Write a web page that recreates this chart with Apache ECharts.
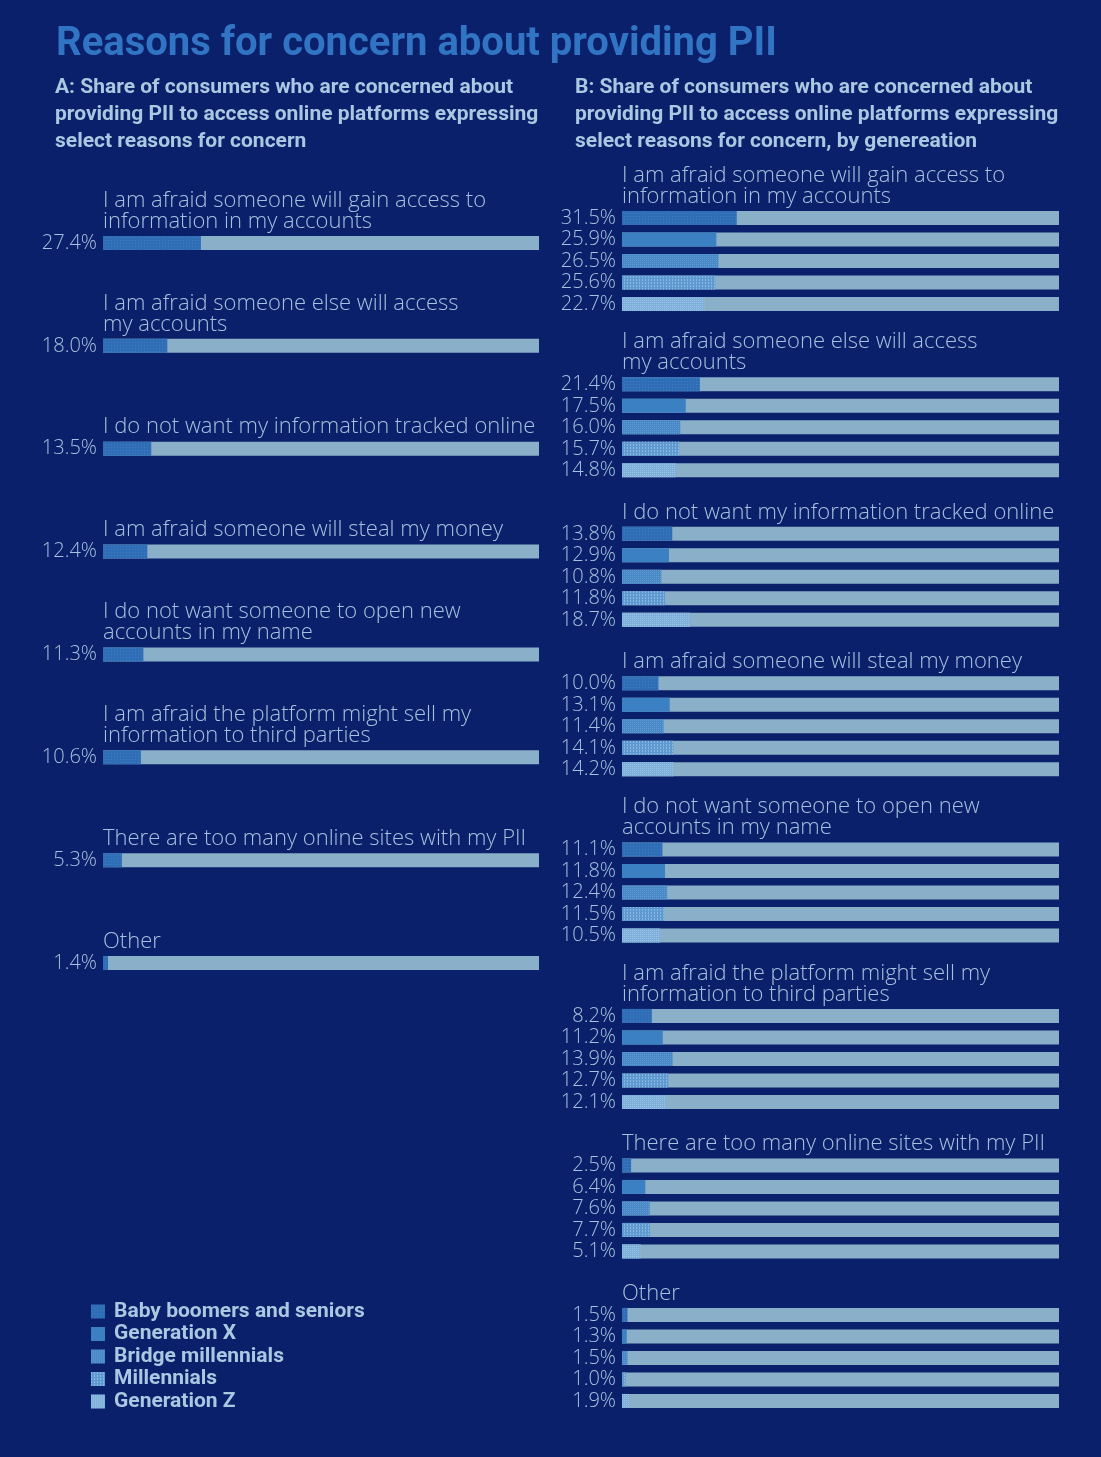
<!DOCTYPE html>
<html>
<head>
<meta charset="utf-8">
<script src="https://cdn.jsdelivr.net/npm/echarts@6/dist/echarts.min.js"></script>
<style>
html,body{margin:0;padding:0;background:#0b206a;}
#c{width:1101px;height:1457px;}
</style>
</head>
<body>
<div id="c"></div>
<script>
// ---------- DATA ----------
const categories = [
  'I am afraid someone will gain access to\ninformation in my accounts',
  'I am afraid someone else will access\nmy accounts',
  'I do not want my information tracked online',
  'I am afraid someone will steal my money',
  'I do not want someone to open new\naccounts in my name',
  'I am afraid the platform might sell my\ninformation to third parties',
  'There are too many online sites with my PII',
  'Other'
];
const totalShare = [27.4, 18.0, 13.5, 12.4, 11.3, 10.6, 5.3, 1.4];
const generations = ['Baby boomers and seniors', 'Generation X', 'Bridge millennials', 'Millennials', 'Generation Z'];
const boomers     = [31.5, 21.4, 13.8, 10.0, 11.1,  8.2, 2.5, 1.5];
const genX        = [25.9, 17.5, 12.9, 13.1, 11.8, 11.2, 6.4, 1.3];
const bridge      = [26.5, 16.0, 10.8, 11.4, 12.4, 13.9, 7.6, 1.5];
const millennials = [25.6, 15.7, 11.8, 14.1, 11.5, 12.7, 7.7, 1.0];
const genZ        = [22.7, 14.8, 18.7, 14.2, 10.5, 12.1, 5.1, 1.9];
const byGeneration = [boomers, genX, bridge, millennials, genZ];

// ---------- STYLE ----------
const BG = '#0b206a';
const TRACK = '#8aafc8';
const LABEL = '#a3c3de';
const SUB = '#a9c9e2';
const genStyles = [
  {color: '#2f6db6', decal: {symbol: 'rect', symbolSize: 1, dashArrayX: [1, 2], dashArrayY: [1, 2], color: 'rgba(110,160,215,0.3)'}},
  {color: '#3a80c3'},
  {color: '#4888c7', decal: {symbol: 'rect', symbolSize: 1, dashArrayX: [1, 1], dashArrayY: [1, 1], color: 'rgba(130,180,225,0.45)'}},
  {color: '#5e9ad1', decal: {symbol: 'rect', symbolSize: 1, dashArrayX: [1, 2], dashArrayY: [2, 1], color: 'rgba(170,205,232,0.6)'}},
  {color: '#7eb0db', decal: {symbol: 'rect', symbolSize: 1, dashArrayX: [1, 1], dashArrayY: [1, 1], color: 'rgba(175,208,234,0.6)'}}
];
const lightFont = '"Open Sans", Roboto, sans-serif';
const boldFont = 'Roboto, "Open Sans", sans-serif';
const maxA = 122, maxB = 120;
const barH = 14;
const catFont = {color: LABEL, fontFamily: lightFont, fontWeight: 300, fontSize: 22, lineHeight: 21};
const pctFont = {color: LABEL, fontFamily: lightFont, fontWeight: 300, fontSize: 20};

const chart = echarts.init(document.getElementById('c'));

const grids = [], xAxes = [], yAxes = [], series = [];

// Panel A
grids.push({left: 103, right: 562, top: 191.5, height: 823});
xAxes.push({type: 'value', gridIndex: 0, min: 0, max: maxA, show: false});
yAxes.push({
  type: 'category', gridIndex: 0, inverse: true, data: categories,
  axisLine: {show: false}, axisTick: {show: false},
  axisLabel: Object.assign({margin: 6, interval: 0,
    formatter: (v, i) => totalShare[i].toFixed(1) + '%'}, pctFont)
});
series.push({
  type: 'bar', name: 'trackA', xAxisIndex: 0, yAxisIndex: 0, barWidth: barH, barGap: '-100%',
  silent: true, itemStyle: {color: TRACK}, z: 1,
  label: Object.assign({show: true, position: [0, -4], align: 'left', verticalAlign: 'bottom',
    formatter: p => categories[p.dataIndex]}, catFont),
  data: categories.map(() => maxA)
});
series.push({
  type: 'bar', name: 'Total', xAxisIndex: 0, yAxisIndex: 0, barWidth: barH, barGap: '-100%',
  itemStyle: genStyles[0], z: 2, data: totalShare
});

// Panel B: one grid per reason
const pitch = 21.5;
let center = 218;
categories.forEach((cat, k) => {
  if (k > 0) {
    const lines = cat.split('\n').length;
    center += 5 * pitch + (lines > 1 ? 58.8 : 42);
  }
  const gi = k + 1;
  grids.push({left: 622, right: 42, top: center - pitch / 2, height: 5 * pitch});
  xAxes.push({type: 'value', gridIndex: gi, min: 0, max: maxB, show: false});
  yAxes.push({
    type: 'category', gridIndex: gi, inverse: true, data: generations,
    axisLine: {show: false}, axisTick: {show: false},
    axisLabel: Object.assign({margin: 6, interval: 0,
      formatter: (v, i) => byGeneration[i][k].toFixed(1) + '%'}, pctFont)
  });
  series.push({
    type: 'bar', name: 'track' + k, xAxisIndex: gi, yAxisIndex: gi, barWidth: barH, barGap: '-100%',
    silent: true, itemStyle: {color: TRACK}, z: 1,
    data: generations.map((g, i) => i === 0 ? {
      value: maxB,
      label: Object.assign({show: true, position: [0, -4], align: 'left', verticalAlign: 'bottom',
        formatter: cat}, catFont)
    } : maxB)
  });
  generations.forEach((g, i) => {
    series.push({
      type: 'bar', name: g, xAxisIndex: gi, yAxisIndex: gi, barWidth: barH, barGap: '-100%',
      stack: 'b' + k, itemStyle: genStyles[i], z: 2,
      data: generations.map((_, j) => j === i ? byGeneration[i][k] : '-')
    });
  });
});

chart.setOption({
  backgroundColor: BG,
  animation: false,
  title: [
    {text: 'Reasons for concern about providing PII', left: 56, top: 25, padding: 0,
      textStyle: {color: '#3274c4', fontFamily: boldFont, fontWeight: 'bold', fontSize: 40}},
    {text: 'A: Share of consumers who are concerned about\nproviding PII to access online platforms expressing\nselect reasons for concern',
      left: 55, top: 74, padding: 0,
      textStyle: {color: SUB, fontFamily: boldFont, fontWeight: 'bold', fontSize: 21, lineHeight: 27}},
    {text: 'B: Share of consumers who are concerned about\nproviding PII to access online platforms expressing\nselect reasons for concern, by genereation',
      left: 575, top: 74, padding: 0,
      textStyle: {color: SUB, fontFamily: boldFont, fontWeight: 'bold', fontSize: 21, lineHeight: 27}}
  ],
  legend: {
    data: generations, orient: 'vertical', left: 86, top: 1296,
    itemWidth: 14, itemHeight: 14, itemGap: 1.5, icon: 'rect', selectedMode: false,
    textStyle: {color: SUB, fontFamily: boldFont, fontWeight: 'bold', fontSize: 21, lineHeight: 19, padding: [0, 0, 0, 4]}
  },
  grid: grids, xAxis: xAxes, yAxis: yAxes, series: series
});
</script>
</body>
</html>
